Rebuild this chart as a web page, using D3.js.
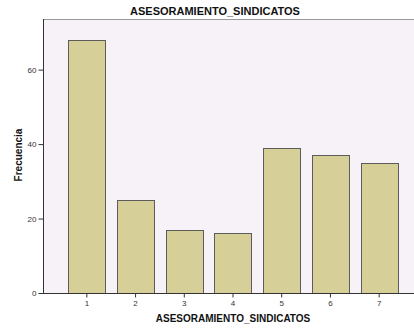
<!DOCTYPE html>
<html><head><meta charset="utf-8">
<script src="https://cdn.jsdelivr.net/npm/d3@7"></script>
<style>body{margin:0;background:#fff}svg{display:block}</style>
</head><body>
<script>
const categories = ["1","2","3","4","5","6","7"];
const values = [68, 25, 17, 16, 39, 37, 35];
const yTicks = [0, 20, 40, 60];
const title = "ASESORAMIENTO_SINDICATOS";
const xTitle = "ASESORAMIENTO_SINDICATOS";
const yTitle = "Frecuencia";

const W = 414, H = 331;
const mLeft = 43, mRight = 423, mTop = 19, mBottom = 293;
const svg = d3.select("body").append("svg").attr("width", W).attr("height", H);

const x = d3.scaleBand().domain(categories).range([mLeft, mRight]).paddingInner(0.24).paddingOuter(0.52);
const y = d3.scaleLinear().domain([0, 73.6]).range([mBottom, mTop]);

svg.append("rect").attr("x", mLeft).attr("y", mTop).attr("width", mRight - mLeft).attr("height", mBottom - mTop)
  .attr("fill", "#f6f2f8");
svg.append("line").attr("x1", mLeft).attr("x2", mRight).attr("y1", mTop + 0.5).attr("y2", mTop + 0.5)
  .attr("stroke", "#9a9a9a").attr("stroke-width", 1.2);

svg.append("g").selectAll("rect").data(values).join("rect")
  .attr("x", (d, i) => Math.round(x(categories[i])) + 0.5)
  .attr("y", d => Math.round(y(d)) + 0.5)
  .attr("width", Math.round(x.bandwidth()))
  .attr("height", d => Math.round(y(0)) - Math.round(y(d)))
  .attr("fill", "#d6cf98").attr("stroke", "#5c5c5c").attr("stroke-width", 1);

const xAxis = svg.append("g").attr("transform", `translate(0,${mBottom + 0.5})`)
  .call(d3.axisBottom(x).tickSize(4).tickPadding(3));
xAxis.select(".domain").attr("stroke", "#333").attr("d", `M${mLeft},0H${mRight}`);
xAxis.selectAll(".tick line").attr("stroke", "#333");
xAxis.selectAll("text").attr("font-family", "Liberation Sans, Arial, sans-serif").attr("font-size", 8).attr("fill", "#333");

const yAxis = svg.append("g").attr("transform", `translate(${mLeft + 0.5},0)`)
  .call(d3.axisLeft(y).tickValues(yTicks).tickSize(5).tickPadding(2));
yAxis.select(".domain").attr("stroke", "#333").attr("d", `M0,${mTop}V${mBottom}`);
yAxis.selectAll(".tick line").attr("stroke", "#333");
yAxis.selectAll("text").attr("font-family", "Liberation Sans, Arial, sans-serif").attr("font-size", 8).attr("fill", "#333");

svg.append("text").attr("x", 215).attr("y", 15).attr("text-anchor", "middle")
  .attr("font-family", "Liberation Sans, Arial, sans-serif").attr("font-weight", "bold").attr("font-size", 11)
  .attr("fill", "#111").text(title);
svg.append("text").attr("x", 233).attr("y", 322).attr("text-anchor", "middle")
  .attr("font-family", "Liberation Sans, Arial, sans-serif").attr("font-weight", "bold").attr("font-size", 10)
  .attr("fill", "#111").text(xTitle);
svg.append("text").attr("transform", "translate(22,155) rotate(-90)").attr("text-anchor", "middle")
  .attr("font-family", "Liberation Sans, Arial, sans-serif").attr("font-weight", "bold").attr("font-size", 10)
  .attr("fill", "#111").text(yTitle);
</script>
</body></html>
